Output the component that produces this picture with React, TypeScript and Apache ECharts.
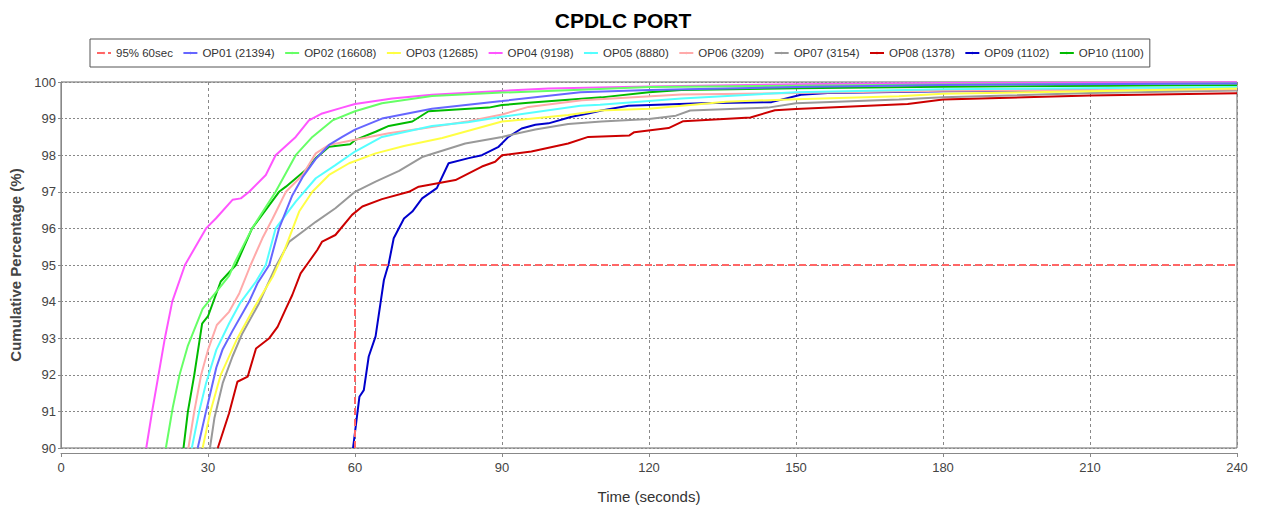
import React, { useEffect, useRef } from "react";
import * as echarts from "echarts";

const FONT = "'Liberation Sans', Arial, sans-serif";

const xTicks = [0, 30, 60, 90, 120, 150, 180, 210, 240];
const yTicks = [90, 91, 92, 93, 94, 95, 96, 97, 98, 99, 100];

const seriesNames = [
  "95% 60sec",
  "OP01 (21394)",
  "OP02 (16608)",
  "OP03 (12685)",
  "OP04 (9198)",
  "OP05 (8880)",
  "OP06 (3209)",
  "OP07 (3154)",
  "OP08 (1378)",
  "OP09 (1102)",
  "OP10 (1100)",
];

const refT = [60, 60, 240];
const refV = [90, 95, 95];

const op01T = [27.9, 29.6, 31.7, 33, 35, 38.4, 40.1, 42.5, 44.5, 47.2, 49.3, 52, 54.7, 57.4, 60, 65.5, 75.7, 90, 106, 120, 150, 180, 240];
const op01V = [90, 91, 92.2, 92.7, 93.2, 94, 94.5, 95, 96, 96.9, 97.4, 97.9, 98.28, 98.5, 98.7, 99, 99.27, 99.48, 99.72, 99.78, 99.86, 99.92, 99.96];

const op02T = [21.4, 22.8, 24.2, 25.9, 28.9, 31.6, 34.3, 35.4, 39, 43.8, 47.9, 51.3, 55.4, 60, 65.5, 75.7, 90, 106, 120, 150, 180, 240];
const op02V = [90, 91.1, 92, 92.8, 93.8, 94.25, 94.7, 95.05, 96, 97, 98, 98.5, 98.95, 99.2, 99.42, 99.62, 99.71, 99.79, 99.86, 99.9, 99.93, 99.96];

const op03T = [28.9, 30.5, 32.6, 36, 39.5, 43.2, 45.3, 48.6, 51.3, 54.7, 58.8, 64.2, 70, 77.8, 90, 103.5, 110, 120, 135.7, 150, 171, 180, 210, 240];
const op03V = [90, 91, 92, 93, 93.85, 94.68, 95.3, 96.46, 97, 97.46, 97.78, 98.05, 98.25, 98.47, 98.92, 99.1, 99.22, 99.27, 99.46, 99.53, 99.61, 99.68, 99.75, 99.82];

const op04T = [17.4, 18.6, 19.9, 21.2, 22.7, 25.3, 29.6, 31.6, 35, 36.7, 38.4, 41.8, 43.8, 47.9, 50.6, 53.3, 57.4, 60, 67.6, 75.7, 85.9, 99.5, 120, 150, 180, 240];
const op04V = [90, 91, 92, 93, 94, 95, 96, 96.27, 96.78, 96.82, 97, 97.46, 98, 98.5, 98.95, 99.14, 99.3, 99.4, 99.55, 99.65, 99.73, 99.82, 99.88, 99.94, 99.97, 99.99];

const op05T = [26.7, 28.2, 29.6, 31.7, 34.3, 36.5, 39.8, 41.8, 43.8, 47.9, 52, 56, 60, 65.5, 75.7, 83, 90, 106, 110, 126.6, 150, 180, 240];
const op05V = [90, 91, 91.77, 92.68, 93.4, 93.95, 94.55, 95, 96, 96.73, 97.37, 97.73, 98.1, 98.5, 98.8, 98.9, 99.05, 99.35, 99.38, 99.55, 99.72, 99.8, 99.86];

const op06T = [26, 27.2, 28.6, 30, 31.8, 34.3, 36.4, 38.7, 41.1, 43.2, 45.9, 49.3, 52, 54.7, 60, 66.9, 73.7, 83.2, 90, 95.4, 106.3, 126.6, 150, 180, 240];
const op06V = [90, 91, 92, 92.68, 93.36, 93.72, 94.23, 95, 95.73, 96.27, 97, 97.46, 98.05, 98.28, 98.42, 98.6, 98.73, 98.93, 99.11, 99.32, 99.5, 99.66, 99.7, 99.76, 99.8];

const op07T = [30.4, 31.3, 33, 35, 37, 40.4, 43.8, 46.6, 49.3, 52, 56, 60, 64.2, 69, 73.7, 82.5, 90, 96.8, 103.5, 110.3, 120, 125.5, 128.4, 144.3, 150, 171, 180, 210, 240];
const op07V = [90, 90.81, 91.77, 92.5, 93.13, 93.95, 94.95, 95.64, 95.91, 96.18, 96.55, 97, 97.28, 97.57, 97.95, 98.32, 98.5, 98.7, 98.85, 98.92, 98.99, 99.08, 99.22, 99.3, 99.42, 99.52, 99.58, 99.7, 99.77];

const op08T = [32, 34.3, 36, 38.1, 39.8, 42.5, 44.2, 45.9, 47.2, 48.9, 50.6, 52.3, 53.3, 56, 59.4, 61.5, 65.5, 71, 73, 80.5, 85.9, 88.6, 90, 96, 103.5, 107.6, 116, 117, 124, 127, 140.7, 145.7, 150, 172.8, 180, 210, 240];
const op08V = [90, 90.95, 91.81, 91.95, 92.72, 93, 93.31, 93.81, 94.18, 94.77, 95.09, 95.41, 95.64, 95.82, 96.37, 96.6, 96.8, 97, 97.14, 97.32, 97.69, 97.82, 98, 98.1, 98.32, 98.5, 98.54, 98.63, 98.74, 98.93, 99.03, 99.23, 99.26, 99.4, 99.52, 99.63, 99.69];

const op09T = [59.6, 60.9, 61.8, 62.8, 64.2, 65.9, 66.9, 67.9, 70, 71.7, 73.7, 76.7, 79.1, 83.2, 85.9, 89.3, 91.3, 94, 96.8, 99.5, 104.2, 107.6, 110.3, 115.8, 130.7, 145, 151, 156.5, 180, 240];
const op09V = [90, 91.4, 91.58, 92.5, 93.05, 94.59, 95.05, 95.73, 96.27, 96.46, 96.82, 97.1, 97.78, 97.92, 98, 98.23, 98.5, 98.73, 98.83, 98.87, 99.05, 99.14, 99.22, 99.35, 99.42, 99.45, 99.65, 99.7, 99.75, 99.8];

const op10T = [25, 25.9, 27.2, 28.8, 30, 32.6, 35.7, 39, 44.5, 45.9, 50, 52, 54.7, 59, 60.1, 64.2, 66.9, 71.7, 75, 87.3, 90, 95.4, 110.3, 120, 126.6, 150, 180, 240];
const op10V = [90, 91, 92, 93.4, 93.6, 94.55, 95, 96, 97, 97.14, 97.6, 97.92, 98.23, 98.3, 98.42, 98.64, 98.8, 98.92, 99.2, 99.3, 99.37, 99.43, 99.58, 99.72, 99.78, 99.83, 99.87, 99.92];

const seriesT = [refT, op01T, op02T, op03T, op04T, op05T, op06T, op07T, op08T, op09T, op10T];
const seriesV = [refV, op01V, op02V, op03V, op04V, op05V, op06V, op07V, op08V, op09V, op10V];
const colors = ["#ff6666", "#6666ff", "#66ff66", "#ffff44", "#ff55ff", "#55ffff", "#ffaaaa", "#999999", "#cc0000", "#0000cc", "#00bb00"];

export default function App() {
  const ref = useRef<HTMLDivElement>(null);
  useEffect(() => {
    if (!ref.current) return;
    const chart = echarts.init(ref.current, undefined, { renderer: "svg" });
    const series = seriesNames.map((name, i) => ({
      name,
      type: "line",
      data: seriesT[i].map((t, j) => [t, seriesV[i][j]]),
      symbol: "none",
      showSymbol: false,
      clip: true,
      z: i === 0 ? 20 : 10 - i,
      lineStyle: {
        color: colors[i],
        width: 2,
        type: i === 0 ? [7, 4] : "solid",
      },
      itemStyle: { color: colors[i] },
    }));
    chart.setOption({
      animation: false,
      backgroundColor: "#ffffff",
      title: {
        text: "CPDLC PORT",
        left: 618,
        top: 5,
        textAlign: "center",
        textStyle: { fontFamily: FONT, fontWeight: "bold", fontSize: 21, color: "#000" },
      },
      legend: {
        data: seriesNames,
        left: 90,
        top: 39,
        width: 1160,
        padding: [8, 6],
        itemGap: 9.5,
        itemWidth: 14,
        itemHeight: 3,
        borderColor: "#555",
        borderWidth: 1,
        borderRadius: 0,
        textStyle: { fontFamily: FONT, fontSize: 11.5, color: "#333" },
      },
      grid: {
        left: 58,
        right: 24,
        top: 82,
        bottom: 63,
        show: true,
        borderColor: "#666",
        borderWidth: 1,
        backgroundColor: "#fff",
      },
      xAxis: {
        type: "value",
        min: xTicks[0],
        max: xTicks[xTicks.length - 1],
        interval: 30,
        offset: 5,
        name: "Time (seconds)",
        nameLocation: "middle",
        nameGap: 36,
        nameTextStyle: { fontFamily: FONT, fontSize: 15, color: "#333" },
        axisLine: { show: true, lineStyle: { color: "#888", width: 1 } },
        axisTick: { show: true, length: 4, lineStyle: { color: "#888" } },
        axisLabel: { fontFamily: FONT, fontSize: 13, color: "#444", margin: 8 },
        splitLine: { show: true, lineStyle: { color: "#888", type: [3, 3], width: 1 } },
      },
      yAxis: {
        type: "value",
        min: yTicks[0],
        max: yTicks[yTicks.length - 1],
        interval: 1,
        name: "Cumulative Percentage (%)",
        nameLocation: "middle",
        nameRotate: 90,
        nameGap: 38,
        nameTextStyle: { fontFamily: FONT, fontSize: 15, fontWeight: "bold", color: "#444" },
        axisLine: { show: true, lineStyle: { color: "#888", width: 1 } },
        axisTick: { show: true, length: 3, lineStyle: { color: "#888" } },
        axisLabel: { fontFamily: FONT, fontSize: 13, color: "#444", margin: 5 },
        splitLine: { show: true, lineStyle: { color: "#888", type: [2, 2], width: 1 } },
      },
      series,
    });
    return () => chart.dispose();
  }, []);
  return (
    <div
      ref={ref}
      style={{ position: "fixed", left: 0, top: 0, width: 1261, height: 511, background: "#fff" }}
    />
  );
}
